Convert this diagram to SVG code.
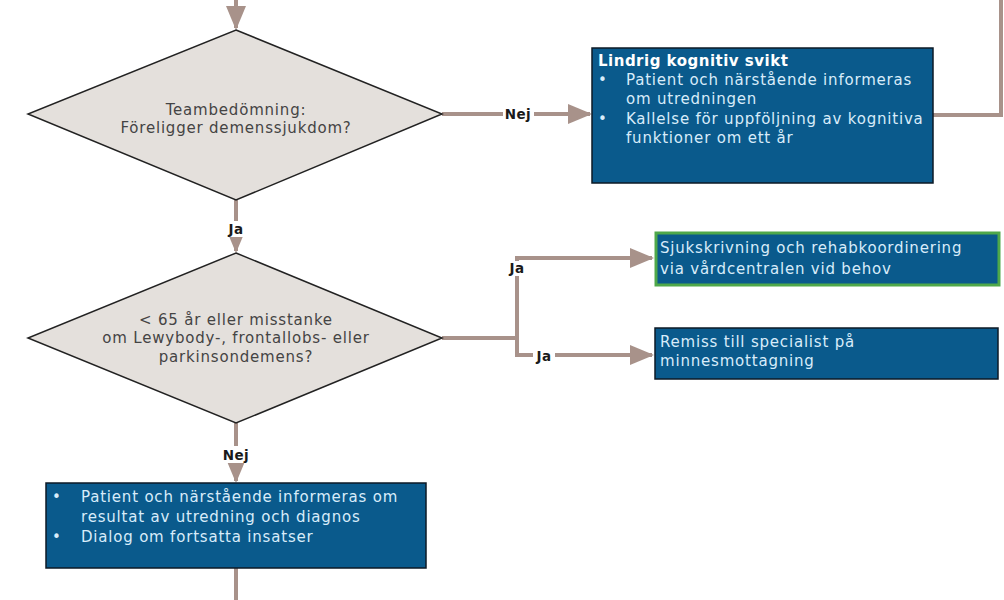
<svg xmlns="http://www.w3.org/2000/svg" width="1004" height="600" viewBox="0 0 1004 600">
<defs>
<marker id="ah" markerWidth="6" markerHeight="5" refX="5.5" refY="2.5" orient="auto" markerUnits="strokeWidth">
<path d="M0,0 L6,2.5 L0,5 Z" fill="#A8928A"/>
</marker>
<style>
.dia{fill:#E4E0DC;stroke:#222;stroke-width:1.5}
.box{fill:#0A5A8C;stroke:#0C1A26;stroke-width:1.5}
.gbox{fill:#0A5A8C;stroke:#4FA84A;stroke-width:3}
.con{fill:none;stroke:#A8928A;stroke-width:4}
.lbg{fill:#fff}
.lbl{font-family:"DejaVu Sans",Verdana,sans-serif;font-size:13.5px;letter-spacing:0.4px;font-weight:bold;fill:#1a1a1a;text-anchor:middle}
.dt{font-family:"DejaVu Sans",Verdana,sans-serif;font-size:15px;letter-spacing:0.8px;fill:#444;text-anchor:middle}
.bt{font-family:"DejaVu Sans",Verdana,sans-serif;font-size:15px;letter-spacing:0.8px;fill:#D8ECFA}
.bh{font-family:"DejaVu Sans",Verdana,sans-serif;font-size:15px;letter-spacing:0.5px;font-weight:bold;fill:#fff}
</style>
</defs>
<rect width="1004" height="600" fill="#fff"/>
<g id="connectors">
<path class="con" d="M236,0 V28" marker-end="url(#ah)"/>
<path class="con" d="M442,114 H590" marker-end="url(#ah)"/>
<path class="con" d="M933,115 H1001 V0"/>
<path class="con" d="M236,200 V251" marker-end="url(#ah)"/>
<path class="con" d="M442,338 H517 V258 H652" marker-end="url(#ah)"/>
<path class="con" d="M517,338 V355 H652" marker-end="url(#ah)"/>
<path class="con" d="M236,423 V481" marker-end="url(#ah)"/>
<path class="con" d="M236,568 V600"/>
<rect class="lbg" x="503" y="106" width="31" height="17"/>
<text class="lbl" x="518" y="119">Nej</text>
<rect class="lbg" x="226" y="221" width="20" height="16"/>
<text class="lbl" x="236" y="234">Ja</text>
<rect class="lbg" x="507" y="261" width="21" height="15"/>
<text class="lbl" x="517" y="273">Ja</text>
<rect class="lbg" x="533" y="348" width="22" height="15"/>
<text class="lbl" x="544" y="361">Ja</text>
<rect class="lbg" x="220" y="446" width="33" height="17"/>
<text class="lbl" x="236" y="460">Nej</text>
</g>
<g id="d1">
<polygon class="dia" points="236,30 442,114 236,200 28,114"/>
<text class="dt" x="236" y="115">Teambedömning:</text>
<text class="dt" x="236" y="133">Föreligger demenssjukdom?</text>
</g>
<g id="b1">
<rect class="box" x="592" y="48" width="341" height="135"/>
<text class="bh" x="598" y="66">Lindrig kognitiv svikt</text>
<text class="bt" x="598" y="85">•</text>
<text class="bt" x="626" y="85">Patient och närstående informeras</text>
<text class="bt" x="626" y="104">om utredningen</text>
<text class="bt" x="598" y="124">•</text>
<text class="bt" x="626" y="124">Kallelse för uppföljning av kognitiva</text>
<text class="bt" x="626" y="143">funktioner om ett år</text>
</g>
<g id="d2">
<polygon class="dia" points="236,253 442,338 236,423 28,338"/>
<text class="dt" x="236" y="325">&lt; 65 år eller misstanke</text>
<text class="dt" x="236" y="343">om Lewybody-, frontallobs- eller</text>
<text class="dt" x="236" y="362">parkinsondemens?</text>
</g>
<g id="b2">
<rect class="gbox" x="656" y="233" width="343" height="52"/>
<text class="bt" x="660" y="253">Sjukskrivning och rehabkoordinering</text>
<text class="bt" x="660" y="274">via vårdcentralen vid behov</text>
</g>
<g id="b3">
<rect class="box" x="655" y="328" width="343" height="51"/>
<text class="bt" x="660" y="347">Remiss till specialist på</text>
<text class="bt" x="660" y="366">minnesmottagning</text>
</g>
<g id="b4">
<rect class="box" x="46" y="483" width="380" height="85"/>
<text class="bt" x="52" y="502">•</text>
<text class="bt" x="81" y="502">Patient och närstående informeras om</text>
<text class="bt" x="81" y="522">resultat av utredning och diagnos</text>
<text class="bt" x="52" y="542">•</text>
<text class="bt" x="81" y="542">Dialog om fortsatta insatser</text>
</g>
</svg>
